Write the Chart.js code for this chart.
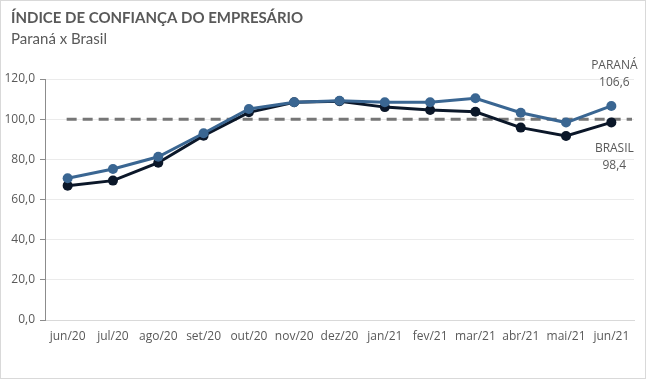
<!DOCTYPE html>
<html><head><meta charset="utf-8">
<script src="https://cdn.jsdelivr.net/npm/chart.js@4/dist/chart.umd.min.js"></script>
<style>html,body{margin:0;padding:0;background:#fff}#wrap{width:646px;height:379px;position:relative}</style>
</head><body><div id="wrap"><canvas id="c" width="646" height="379"></canvas></div>
<script>
const categories = ["jun/20","jul/20","ago/20","set/20","out/20","nov/20","dez/20","jan/21","fev/21","mar/21","abr/21","mai/21","jun/21"];
const parana = [70.6,75.2,81.3,93.0,105.1,108.4,109.2,108.4,108.4,110.4,103.2,98.3,106.6];
const brasil = [66.9,69.4,78.3,91.8,103.4,108.4,108.9,106.0,104.6,103.7,95.8,91.6,98.4];
const referenceValue = 100;
const yTicks = [0,20,40,60,80,100,120];
const titleText = "ÍNDICE DE CONFIANÇA DO EMPRESÁRIO";
const subtitleText = "Paraná x Brasil";

const fmt = v => v.toFixed(1).replace('.', ',');
const FONT = "'Open Sans', sans-serif";
const TFONT = "Lato, 'Open Sans', sans-serif";

const decor = {
  id: 'decor',
  beforeDatasetsDraw(chart) {
    const ctx = chart.ctx, y = chart.scales.y, x = chart.scales.x;
    const py = y.getPixelForValue(referenceValue);
    ctx.save();
    ctx.strokeStyle = '#767676';
    ctx.lineWidth = 3;
    ctx.setLineDash([10, 6]);
    ctx.beginPath();
    ctx.moveTo(x.getPixelForValue(0) - 1, py);
    ctx.lineTo(chart.chartArea.right - 2, py);
    ctx.stroke();
    ctx.restore();
  },
  afterDraw(chart) {
    const ctx = chart.ctx;
    ctx.save();
    ctx.strokeStyle = '#D9D9D9';
    ctx.lineWidth = 1;
    ctx.strokeRect(0.5, 0.5, chart.width - 1, chart.height - 1);
    ctx.fillStyle = '#595959';
    ctx.textBaseline = 'middle';
    ctx.textAlign = 'left';
    ctx.font = "bold 15px " + TFONT;
    ctx.fillText(titleText, 11, 18);
    ctx.font = "15px " + TFONT;
    ctx.fillText(subtitleText, 11, 39);
    const last = categories.length - 1;
    const mp = chart.getDatasetMeta(0).data[last];
    const mb = chart.getDatasetMeta(1).data[last];
    ctx.textAlign = 'center';
    ctx.font = "12px " + FONT;
    ctx.fillStyle = '#595959';
    ctx.fillText("PARANÁ", mp.x + 3, mp.y - 40);
    ctx.fillText(fmt(parana[last]), mp.x + 3, mp.y - 23);
    ctx.fillText("BRASIL", mb.x + 3, mb.y + 26);
    ctx.fillText(fmt(brasil[last]), mb.x + 3, mb.y + 43);
    ctx.restore();
  }
};

new Chart(document.getElementById('c'), {
  type: 'line',
  data: {
    labels: categories,
    datasets: [
      { label: 'Paraná', data: parana, borderColor: '#3A6692', backgroundColor: '#3A6692',
        borderWidth: 3, pointRadius: 5, pointBorderWidth: 0, pointHoverRadius: 5, tension: 0 },
      { label: 'Brasil', data: brasil, borderColor: '#0B1729', backgroundColor: '#0B1729',
        borderWidth: 3, pointRadius: 5, pointBorderWidth: 0, pointHoverRadius: 5, tension: 0 }
    ]
  },
  options: {
    responsive: false,
    animation: false,
    layout: { padding: { top: 79, right: 12, bottom: 29, left: 0 } },
    plugins: { legend: { display: false }, tooltip: { enabled: false }, title: { display: false } },
    scales: {
      x: {
        offset: true,
        grid: { display: false, drawTicks: false },
        border: { color: '#D9D9D9', width: 1 },
        ticks: { color: '#595959', font: { family: FONT, size: 12 }, padding: 9, maxRotation: 0, autoSkip: false },
        afterFit: s => { s.height = 30; }
      },
      y: {
        min: 0, max: 120,
        afterBuildTicks: s => { s.ticks = yTicks.map(v => ({ value: v })); },
        grid: { color: '#EBEBEB', tickColor: '#8C8C8C', tickLength: 5, drawTicks: true },
        border: { color: '#8C8C8C', width: 1 },
        ticks: { color: '#595959', font: { family: FONT, size: 12 }, padding: 5, callback: v => fmt(v) },
        afterFit: s => { s.width = 45; }
      }
    }
  },
  plugins: [decor]
});
</script></body></html>
